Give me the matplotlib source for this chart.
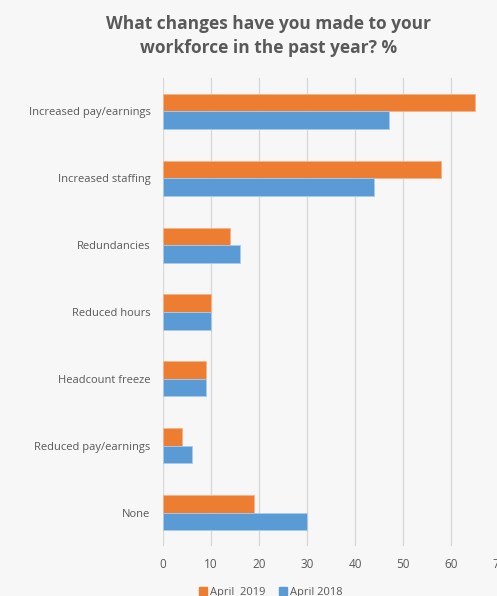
import numpy as np
import matplotlib.pyplot as plt
from matplotlib.patches import Patch

categories = ['Increased pay/earnings', 'Increased staffing', 'Redundancies',
              'Reduced hours', 'Headcount freeze', 'Reduced pay/earnings', 'None']
april_2019 = [65, 58, 14, 10, 9, 4, 19]
april_2018 = [47, 44, 16, 10, 9, 6, 30]
x_ticks = [0, 10, 20, 30, 40, 50, 60, 70]

bg = '#f7f7f7'
orange = '#ED7D31'
blue = '#5B9BD5'
grey = '#595959'

plt.rcParams['font.family'] = ['Open Sans', 'DejaVu Sans']

fig = plt.figure(figsize=(4.97, 5.96), dpi=100, facecolor=bg)
ax = fig.add_axes([163 / 497, 1 - 546 / 596, (499 - 163) / 497, (546 - 78) / 596])
ax.set_facecolor(bg)

y = np.arange(len(categories))
h = 0.262
ax.barh(y - h / 2, april_2019, height=h, color=orange, edgecolor='#f5b48a', linewidth=0.6, zorder=3)
ax.barh(y + h / 2, april_2018, height=h, color=blue, edgecolor='#a9cbee', linewidth=0.6, zorder=3)

ax.set_ylim(len(categories) - 0.5, -0.5)
ax.set_xlim(0, 70)
ax.set_yticks(y)
ax.set_yticklabels(categories, fontsize=8, color=grey)
ax.set_xticks(x_ticks)
ax.set_xticklabels([str(t) for t in x_ticks], fontsize=8.5, color=grey)
ax.tick_params(axis='x', length=0, pad=9)
ax.tick_params(axis='y', length=0, pad=9)
ax.grid(axis='x', color='#d9d9d9', linewidth=1, zorder=0)
for s in ax.spines.values():
    s.set_visible(False)

fig.text(0.54, 1 - 36 / 596, 'What changes have you made to your\nworkforce in the past year? %',
         ha='center', va='center', fontsize=12.5, fontweight='bold', color=grey, linespacing=1.4)

handles = [Patch(color=orange, label='April  2019'), Patch(color=blue, label='April 2018')]
fig.legend(handles=handles, loc='center', bbox_to_anchor=(0.545, 1 - 592 / 596), ncol=2,
           frameon=False, fontsize=8, handlelength=0.7, handleheight=0.7,
           handletextpad=0.3, columnspacing=1.2, labelcolor=grey)

fig.savefig('out.png', dpi=100, facecolor=bg)
